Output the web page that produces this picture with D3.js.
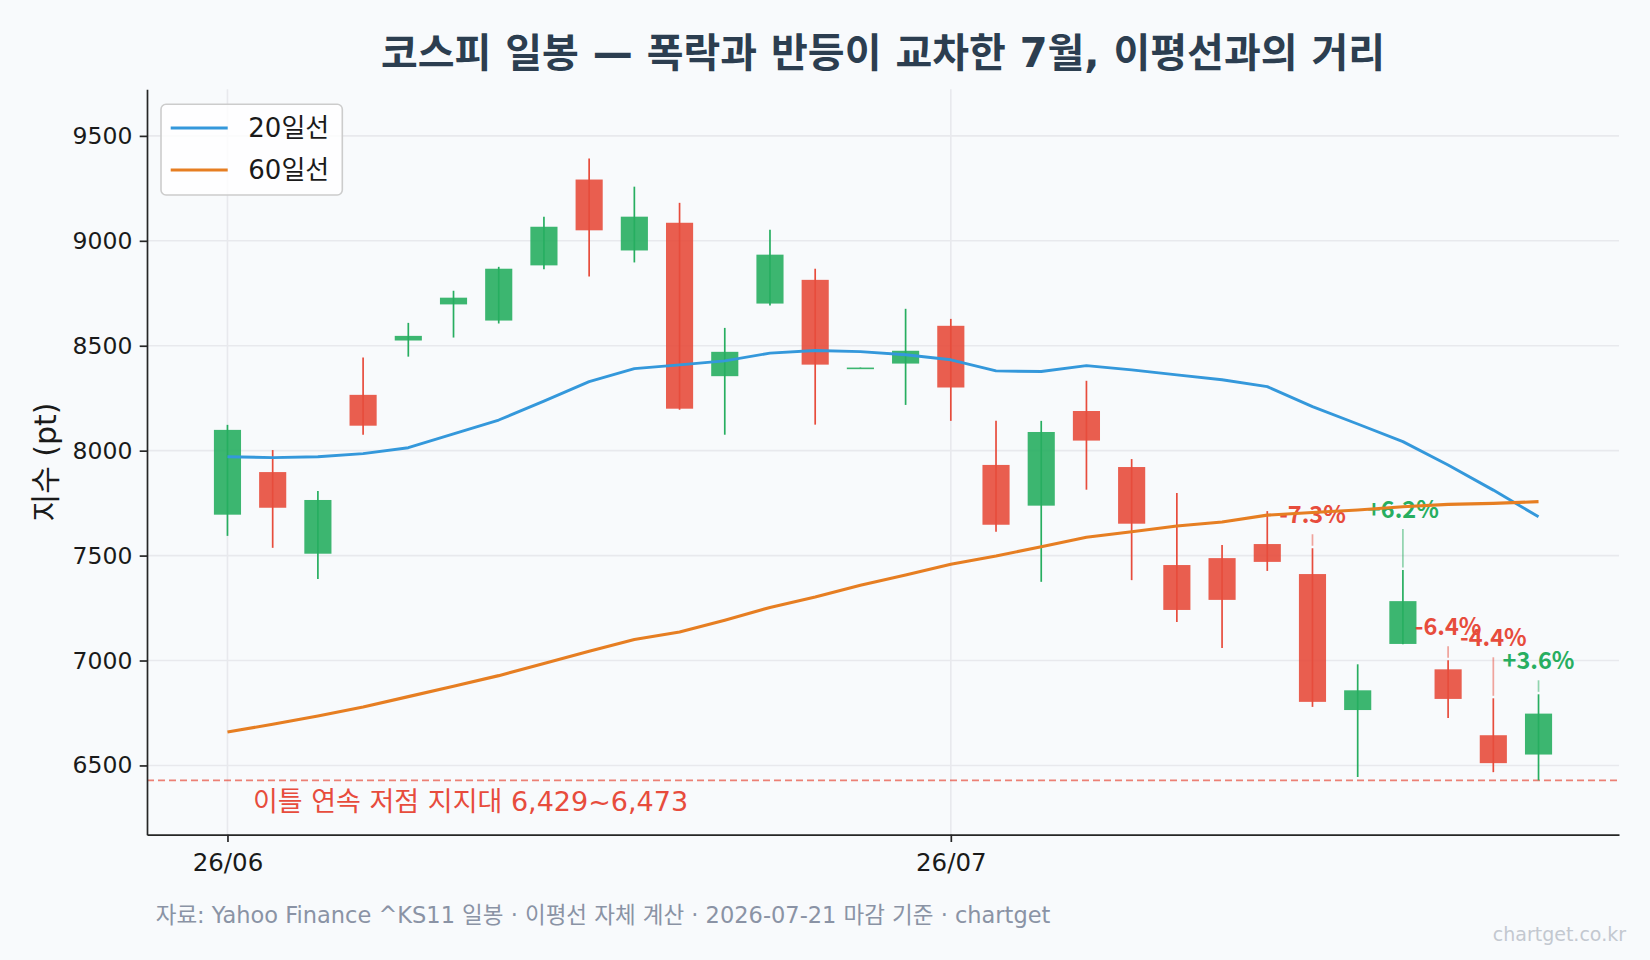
<!DOCTYPE html>
<html><head><meta charset="utf-8">
<script src="https://cdn.jsdelivr.net/npm/d3@7"></script>
<style>
body{margin:0;background:#f8fafc;}
svg{display:block;}
text{font-family:"DejaVu Sans","Noto Sans CJK KR",sans-serif;}
text.move{font-family:"Noto Sans CJK KR","Noto Sans",sans-serif;}
</style>
</head><body><svg id="chart" width="1650" height="960"></svg>
<script>
// ---- data ----
const xTickLabels = ["26/06", "26/07"];
const xTickIndex  = [0, 16];
const openVals  = [7695,7898,7509,8266,8525,8697,8620,8883,9292,8954,9086,8355,8701,8814,8394,8415,8595,7932,7738,8189,7922,7455,7488,7555,7412,6764,7079,6958,6644,6552];
const highVals  = [8123,8003,7808,8444,8609,8762,8876,9115,9392,9258,9181,8585,9053,8867,8396,8676,8628,8142,8142,8333,7960,7798,7550,7712,7535,6982,7431,7001,6820,6839];
const lowVals   = [7594,7537,7389,8076,8448,8539,8606,8864,8830,8897,8195,8076,8692,8124,8394,8218,8142,7614,7375,7814,7383,7184,7060,7427,6779,6445,7077,6726,6468,6429];
const closeVals = [8099,7728,7765,8119,8547,8729,8867,9067,9050,9115,8200,8471,8934,8410,8396,8476,8301,7647,8089,8048,7652,7241,7289,7470,6803,6858,7283,6817,6511,6747];
const ma20 = [7971,7967,7971,7986,8014,8080,8146,8236,8329,8391,8409,8428,8465,8477,8472,8457,8433,8380,8377,8405,8385,8361,8338,8305,8210,8127,8043,7932,7812,7685];
const ma60 = [6659,6696,6736,6779,6828,6877,6928,6986,7044,7100,7136,7192,7253,7303,7359,7407,7459,7498,7542,7587,7614,7641,7660,7693,7705,7717,7733,7744,7749,7757];
const yTicks = [6500, 7000, 7500, 8000, 8500, 9000, 9500];
const moveIndex  = [24, 26, 27, 28, 29];
const moveLabels = ["-7.3%", "+6.2%", "-6.4%", "-4.4%", "+3.6%"];
const supportLevel = 6429;
const supportText = "이틀 연속 저점 지지대 6,429~6,473";
const legendNames = ["20일선", "60일선"];
const titleText = "코스피 일봉 — 폭락과 반등이 교차한 7월, 이평선과의 거리";
const yLabel = "지수 (pt)";
const footerText = "자료: Yahoo Finance ^KS11 일봉 · 이평선 자체 계산 · 2026-07-21 마감 기준 · chartget";
const watermark = "chartget.co.kr";

// ---- styles ----
const UP = "#27ae60", DOWN = "#e74c3c", BLUE = "#3498db", ORANGE = "#e67e22";
const L = 147, R = 1619, T = 89.3, B = 834.7;

const svg = d3.select("#chart");
svg.append("rect").attr("width",1650).attr("height",960).attr("fill","#f8fafc");

const x = d3.scaleLinear().domain([-1.78, 30.78]).range([L, R]);
const y = d3.scaleLinear().domain([6170, 9722]).range([B, T]);
const idx = d3.range(closeVals.length);

// grid
const grid = svg.append("g");
grid.selectAll(".gy").data(yTicks).join("line")
  .attr("x1", L).attr("x2", R).attr("y1", d=>y(d)).attr("y2", d=>y(d))
  .attr("stroke", "#e8e9ed").attr("stroke-width", 1.6);
grid.selectAll(".gx").data(xTickIndex).join("line")
  .attr("x1", d=>x(d)).attr("x2", d=>x(d)).attr("y1", T).attr("y2", B)
  .attr("stroke", "#e8e9ed").attr("stroke-width", 1.6);

// support line
svg.append("line").attr("x1", L).attr("x2", R)
  .attr("y1", y(supportLevel)).attr("y2", y(supportLevel))
  .attr("stroke", DOWN).attr("stroke-opacity", 0.7).attr("stroke-width", 1.8)
  .attr("stroke-dasharray", "7,4");
svg.append("text").attr("x", 253).attr("y", 811)
  .attr("fill", DOWN).attr("font-size", 27).text(supportText);

// candles
const col = i => closeVals[i] >= openVals[i] ? UP : DOWN;
const bw = x(0.3) - x(-0.3);
const cg = svg.append("g");
cg.selectAll(".wick").data(idx).join("line")
  .attr("x1", i=>x(i)).attr("x2", i=>x(i))
  .attr("y1", i=>y(highVals[i])).attr("y2", i=>y(lowVals[i]))
  .attr("stroke", col).attr("stroke-width", 1.7);
cg.selectAll(".body").data(idx).join("rect")
  .attr("x", i=>x(i)-bw/2).attr("width", bw)
  .attr("y", i=>y(Math.max(openVals[i], closeVals[i])))
  .attr("height", i=>Math.max(1.6, Math.abs(y(openVals[i]) - y(closeVals[i]))))
  .attr("fill", col).attr("fill-opacity", 0.9);

// move labels
const lg = svg.append("g");
moveIndex.forEach((i, k) => {
  const c = moveLabels[k].startsWith("-") ? DOWN : UP;
  const base = y(highVals[i]) - (k % 2 === 0 ? 25 : 52);
  lg.append("line").attr("x1", x(i)).attr("x2", x(i))
    .attr("y1", base + 11).attr("y2", y(highVals[i]) - 2.5)
    .attr("stroke", c).attr("stroke-opacity", 0.5).attr("stroke-width", 1.7);
  lg.append("text").attr("class", "move").attr("x", x(i)).attr("y", base)
    .attr("text-anchor", "middle").attr("font-size", 23.5).attr("font-weight", "bold")
    .attr("fill", c).text(moveLabels[k]);
});

// moving averages
const line = d3.line().x((d,i)=>x(i)).y(d=>y(d));
svg.append("path").datum(ma20).attr("d", line).attr("fill","none")
  .attr("stroke", BLUE).attr("stroke-width", 2.9).attr("stroke-linejoin","round");
svg.append("path").datum(ma60).attr("d", line).attr("fill","none")
  .attr("stroke", ORANGE).attr("stroke-width", 3.1).attr("stroke-linejoin","round");

// axes
const yAxis = svg.append("g").attr("transform", `translate(${L},0)`)
  .call(d3.axisLeft(y).tickValues(yTicks).tickFormat(d3.format("d")).tickSize(7.3).tickPadding(7.3).tickSizeOuter(0));
const xAxis = svg.append("g").attr("transform", `translate(0,${B})`)
  .call(d3.axisBottom(x).tickValues(xTickIndex).tickFormat((d,i)=>xTickLabels[i]).tickSize(7.3).tickPadding(12).tickSizeOuter(0));
[yAxis, xAxis].forEach(a => {
  a.select(".domain").attr("stroke", "#262626").attr("stroke-width", 1.7);
  a.selectAll(".tick line").attr("stroke", "#262626").attr("stroke-width", 1.7);
  a.selectAll(".tick text").attr("fill", "#1a1a1a");
});
yAxis.selectAll(".tick text").attr("font-size", 23.5);
xAxis.selectAll(".tick text").attr("font-size", 24.5);

// legend
const leg = svg.append("g");
leg.append("rect").attr("x", 161).attr("y", 104.3).attr("width", 181.3).attr("height", 90.7)
  .attr("rx", 5).attr("fill", "#ffffff").attr("fill-opacity", 0.8)
  .attr("stroke", "#cccccc").attr("stroke-width", 1.6);
[BLUE, ORANGE].forEach((c, k) => {
  const ly = 128 + k * 42;
  leg.append("line").attr("x1", 170.7).attr("x2", 227.7).attr("y1", ly).attr("y2", ly)
    .attr("stroke", c).attr("stroke-width", 2.9);
  leg.append("text").attr("x", 248.3).attr("y", ly).attr("dy", "0.36em")
    .attr("font-size", 26).attr("fill", "#1a1a1a").text(legendNames[k]);
});

// title & labels
svg.append("text").attr("x", (L+R)/2).attr("y", 66.5).attr("text-anchor", "middle")
  .attr("font-size", 40).attr("font-weight", "bold").attr("fill", "#2c3e50").text(titleText);
svg.append("text").attr("transform", `translate(56,${(T+B)/2}) rotate(-90)`)
  .attr("text-anchor", "middle").attr("font-size", 30).attr("fill", "#1a1a1a").text(yLabel);
svg.append("text").attr("x", 155.7).attr("y", 923).attr("font-size", 22.5)
  .attr("fill", "#8a93a5").text(footerText);
svg.append("text").attr("x", 1626).attr("y", 941).attr("text-anchor", "end")
  .attr("font-size", 19).attr("fill", "#c3c8d0").text(watermark);
</script>
</body></html>
